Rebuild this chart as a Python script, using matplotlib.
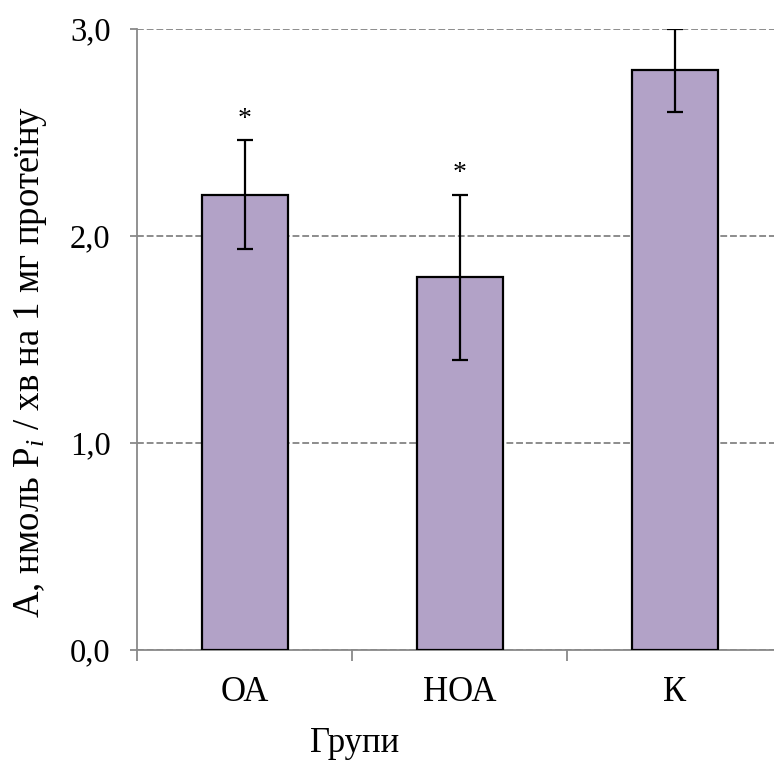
import matplotlib
matplotlib.use("Agg")
import matplotlib.pyplot as plt
import numpy as np

groups = ["ОА", "НОА", "К"]
values = [2.2, 1.8, 2.8]
errors = [0.265, 0.40, 0.20]
marks = ["*", "*", ""]

plt.rcParams['font.family'] = ['Liberation Serif', 'DejaVu Serif']
plt.rcParams['mathtext.fontset'] = 'custom'
plt.rcParams['mathtext.rm'] = 'Liberation Serif'
plt.rcParams['mathtext.it'] = 'Liberation Serif:italic'

W, H = 774, 763
fig = plt.figure(figsize=(W / 100, H / 100), dpi=100)
ax = fig.add_axes([137 / W, (H - 650) / H, 645 / W, 621 / H])

x = np.arange(len(groups))
ax.bar(x, values, width=0.4, color="#B2A2C7", edgecolor="black", linewidth=1.6, zorder=3)
ax.errorbar(x, values, yerr=errors, fmt="none", ecolor="black", elinewidth=1.6,
            capsize=6, capthick=1.6, zorder=4)
for xi, v, e, m in zip(x, values, errors, marks):
    if m:
        ax.text(xi, v + e + 0.10, m, ha="center", va="center", fontsize=20, zorder=5)

ax.set_xlim(-0.5, 2.5)
ax.set_ylim(0, 3)
ax.set_yticks([0, 1, 2, 3])
ax.set_yticklabels(["0,0", "1,0", "2,0", "3,0"])
ax.yaxis.grid(True, linestyle=(0, (3.5, 1.5)), color="#8C8C8C", linewidth=1.4, zorder=0)

ax.set_xticks([-0.5, 0.5, 1.5, 2.5])
ax.set_xticklabels([])
ax.set_xticks(x, minor=True)
ax.set_xticklabels(groups, minor=True)
ax.tick_params(axis="x", which="major", length=8, width=1.3, color="#898989", direction="out")
ax.tick_params(axis="x", which="minor", length=0, pad=19, labelsize=25)
ax.tick_params(axis="y", length=5, width=1.3, color="#898989", pad=14, labelsize=23.5)

for s in ["top", "right"]:
    ax.spines[s].set_visible(False)
for s in ["left", "bottom"]:
    ax.spines[s].set_color("#898989")
    ax.spines[s].set_linewidth(1.3)

fig.text(355 / W, (H - 744) / H, "Групи", ha="center", va="center", fontsize=25)
fig.text(31 / W, (H - 362) / H, "А, нмоль P$_{i}$ / хв на 1 мг протеїну",
         ha="center", va="center", rotation=90, fontsize=26.5)

fig.savefig("out.png", dpi=100)
